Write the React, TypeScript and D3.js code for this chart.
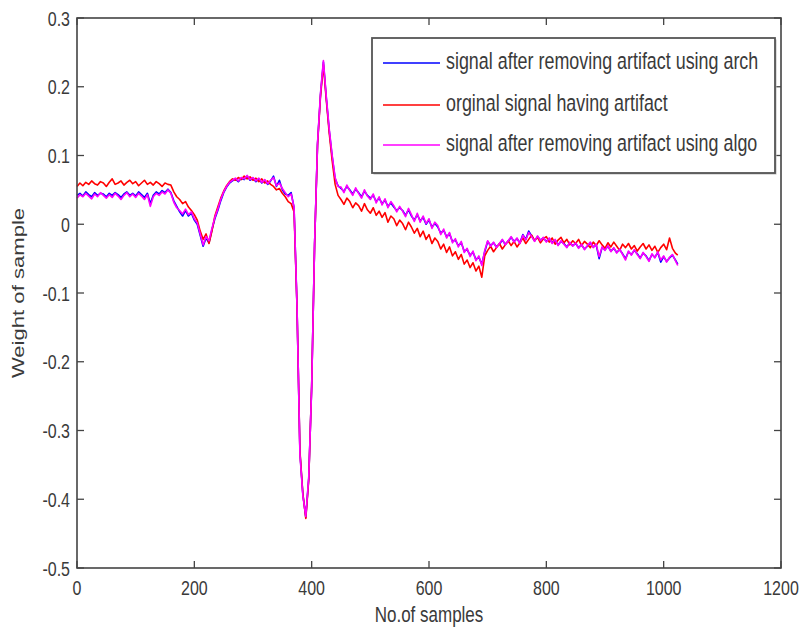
import React from "react";
import * as d3 from "d3";

// sample positions (every 5th sample, plus the last sample)
const sampleIndex: number[] = [...d3.range(0, 1021, 5), 1024];

// signal after removing artifact using arch (blue)
const archSignal: number[] = [
  0.042, 0.045, 0.041, 0.047, 0.043, 0.040, 0.046, 0.042, 0.045, 0.044,
  0.040, 0.045, 0.042, 0.046, 0.043, 0.039, 0.044, 0.047, 0.042, 0.045,
  0.041, 0.047, 0.043, 0.039, 0.045, 0.030, 0.042, 0.047, 0.044, 0.049,
  0.046, 0.051, 0.046, 0.034, 0.026, 0.018, 0.012, 0.020, 0.012, 0.016,
  0.006, 0.000, -0.016, -0.032, -0.020, -0.027, -0.008, 0.008, 0.020, 0.034,
  0.046, 0.054, 0.060, 0.063, 0.066, 0.062, 0.067, 0.065, 0.070, 0.064,
  0.067, 0.062, 0.066, 0.060, 0.064, 0.058, 0.063, 0.070, 0.055, 0.064,
  0.050, 0.044, 0.042, 0.046, 0.024, -0.119, -0.332, -0.393, -0.426, -0.370,
  -0.236, -0.029, 0.117, 0.188, 0.236, 0.183, 0.136, 0.098, 0.066, 0.056,
  0.052, 0.048, 0.055, 0.050, 0.044, 0.051, 0.046, 0.040, 0.048, 0.042,
  0.038, 0.042, 0.033, 0.038, 0.030, 0.035, 0.026, 0.031, 0.025, 0.020,
  0.024, 0.020, 0.013, 0.021, 0.012, 0.006, 0.014, 0.005, 0.010, 0.000,
  0.006, -0.004, 0.001, -0.004, -0.013, -0.009, -0.018, -0.014, -0.025, -0.023,
  -0.031, -0.027, -0.039, -0.037, -0.045, -0.041, -0.051, -0.048, -0.058, -0.040,
  -0.025, -0.031, -0.027, -0.033, -0.029, -0.023, -0.029, -0.025, -0.019, -0.025,
  -0.021, -0.027, -0.015, -0.022, -0.010, -0.017, -0.024, -0.018, -0.023, -0.020,
  -0.025, -0.021, -0.027, -0.023, -0.030, -0.025, -0.028, -0.033, -0.027, -0.031,
  -0.028, -0.034, -0.030, -0.036, -0.032, -0.027, -0.033, -0.030, -0.050, -0.034,
  -0.037, -0.032, -0.039, -0.035, -0.041, -0.037, -0.043, -0.050, -0.040, -0.044,
  -0.038, -0.043, -0.049, -0.042, -0.046, -0.053, -0.044, -0.048, -0.041, -0.055,
  -0.047, -0.054, -0.049, -0.045, -0.052, -0.058,
];

// orginal signal having artifact (red)
const originalSignal: number[] = [
  0.055, 0.060, 0.056, 0.061, 0.058, 0.063, 0.059, 0.057, 0.062, 0.060,
  0.055, 0.061, 0.066, 0.058, 0.060, 0.063, 0.057, 0.061, 0.064, 0.059,
  0.062, 0.056, 0.060, 0.064, 0.058, 0.061, 0.057, 0.062, 0.059, 0.055,
  0.060, 0.058, 0.057, 0.047, 0.040, 0.036, 0.030, 0.033, 0.025, 0.020,
  0.014, 0.006, -0.010, -0.022, -0.014, -0.028, -0.010, 0.012, 0.025, 0.038,
  0.048, 0.056, 0.062, 0.066, 0.064, 0.068, 0.065, 0.070, 0.066, 0.069,
  0.064, 0.067, 0.062, 0.066, 0.060, 0.063, 0.058, 0.055, 0.050, 0.052,
  0.045, 0.040, 0.033, 0.030, 0.018, -0.120, -0.330, -0.392, -0.428, -0.372,
  -0.235, -0.030, 0.115, 0.185, 0.232, 0.180, 0.132, 0.092, 0.058, 0.042,
  0.036, 0.029, 0.038, 0.033, 0.024, 0.031, 0.027, 0.019, 0.030, 0.021,
  0.016, 0.024, 0.013, 0.019, 0.010, 0.017, 0.003, 0.012, 0.008, -0.002,
  0.006, 0.001, -0.008, 0.003, -0.004, -0.013, -0.006, -0.018, -0.010, -0.022,
  -0.015, -0.028, -0.020, -0.025, -0.036, -0.029, -0.041, -0.033, -0.046, -0.040,
  -0.051, -0.044, -0.058, -0.052, -0.063, -0.056, -0.068, -0.061, -0.077, -0.046,
  -0.038, -0.032, -0.040, -0.034, -0.028, -0.036, -0.030, -0.024, -0.031, -0.025,
  -0.033, -0.027, -0.020, -0.028, -0.022, -0.016, -0.024, -0.019, -0.027, -0.021,
  -0.018, -0.026, -0.020, -0.029, -0.023, -0.019, -0.027, -0.022, -0.030, -0.024,
  -0.028, -0.022, -0.031, -0.025, -0.029, -0.034, -0.026, -0.031, -0.024, -0.030,
  -0.035, -0.027, -0.033, -0.026, -0.032, -0.038, -0.029, -0.034, -0.028, -0.036,
  -0.031, -0.039, -0.033, -0.028, -0.036, -0.030, -0.038, -0.032, -0.041, -0.034,
  -0.029, -0.037, -0.020, -0.035, -0.042, -0.045,
];

// signal after removing artifact using algo (magenta)
const algoSignal: number[] = [
  0.038, 0.043, 0.040, 0.045, 0.041, 0.037, 0.044, 0.040, 0.046, 0.042,
  0.038, 0.043, 0.039, 0.045, 0.041, 0.036, 0.042, 0.046, 0.040, 0.044,
  0.039, 0.045, 0.041, 0.036, 0.043, 0.026, 0.040, 0.045, 0.042, 0.047,
  0.044, 0.050, 0.045, 0.032, 0.024, 0.020, 0.015, 0.022, 0.014, 0.018,
  0.008, 0.002, -0.014, -0.030, -0.018, -0.024, -0.006, 0.010, 0.022, 0.036,
  0.047, 0.055, 0.061, 0.064, 0.067, 0.063, 0.068, 0.066, 0.071, 0.065,
  0.068, 0.063, 0.067, 0.061, 0.065, 0.059, 0.064, 0.068, 0.056, 0.060,
  0.052, 0.046, 0.040, 0.044, 0.025, -0.118, -0.335, -0.395, -0.425, -0.368,
  -0.238, -0.028, 0.118, 0.190, 0.238, 0.185, 0.138, 0.100, 0.068, 0.055,
  0.054, 0.046, 0.057, 0.049, 0.042, 0.053, 0.045, 0.038, 0.050, 0.041,
  0.036, 0.044, 0.031, 0.040, 0.028, 0.037, 0.024, 0.033, 0.027, 0.018,
  0.026, 0.019, 0.011, 0.023, 0.014, 0.004, 0.016, 0.003, 0.012, 0.001,
  0.008, -0.006, 0.003, -0.002, -0.015, -0.007, -0.020, -0.012, -0.027, -0.021,
  -0.033, -0.025, -0.041, -0.035, -0.047, -0.039, -0.053, -0.046, -0.060, -0.038,
  -0.024, -0.032, -0.026, -0.034, -0.028, -0.022, -0.030, -0.024, -0.018, -0.026,
  -0.020, -0.028, -0.016, -0.023, -0.012, -0.018, -0.025, -0.017, -0.024, -0.019,
  -0.026, -0.020, -0.028, -0.022, -0.031, -0.024, -0.029, -0.034, -0.026, -0.032,
  -0.027, -0.035, -0.029, -0.037, -0.031, -0.026, -0.034, -0.029, -0.047, -0.033,
  -0.038, -0.031, -0.040, -0.034, -0.042, -0.036, -0.044, -0.052, -0.039, -0.045,
  -0.037, -0.044, -0.050, -0.041, -0.047, -0.054, -0.043, -0.049, -0.040, -0.052,
  -0.046, -0.055, -0.048, -0.044, -0.053, -0.060,
];

const xTicks: number[] = [0, 200, 400, 600, 800, 1000, 1200];
const yTicks: number[] = [-0.5, -0.4, -0.3, -0.2, -0.1, 0, 0.1, 0.2, 0.3];
const legendLabels: string[] = [
  "signal after removing artifact using arch",
  "orginal signal having artifact",
  "signal after removing artifact using algo",
];
const seriesColors: string[] = ["#0000ff", "#ff0000", "#ff00ff"];
const xLabel = "No.of samples";
const yLabel = "Weight of sample";

const W = 802;
const H = 631;
const PL = 77, PR = 781, PT = 18, PB = 568;
const FONT = "'Liberation Sans', Arial, sans-serif";
const TEXT_COLOR = "#3a3a3a";
const AXIS_COLOR = "#444";
const SY = 1.3;

export default function App() {
  const x = d3.scaleLinear().domain([0, 1200]).range([PL, PR]);
  const y = d3.scaleLinear().domain([-0.5, 0.3]).range([PB, PT]);
  const lineGen = d3
    .line<number>()
    .x((_, i) => x(sampleIndex[i]))
    .y((d) => y(d));
  const series = [archSignal, originalSignal, algoSignal];
  const fmt = (v: number) => (Math.abs(v) < 1e-9 ? "0" : v.toFixed(1));
  const tickLen = 7;

  const legX = 372, legY = 38, legW = 403, legH = 135;
  const rowY = [63, 105, 145];

  return (
    <svg
      width={W}
      height={H}
      style={{ position: "absolute", left: 0, top: 0, background: "#fff" }}
      fontFamily={FONT}
    >
      <rect x={0} y={0} width={W} height={H} fill="#fff" />
      {/* series */}
      <g fill="none" strokeWidth={1.6} strokeLinejoin="round">
        {series.map((s, k) => (
          <path key={k} d={lineGen(s) || ""} stroke={seriesColors[k]} />
        ))}
      </g>
      {/* frame */}
      <rect x={PL} y={PT} width={PR - PL} height={PB - PT} fill="none" stroke={AXIS_COLOR} strokeWidth={1.6} />
      {/* x ticks */}
      {xTicks.map((t) => (
        <g key={"x" + t}>
          <line x1={x(t)} x2={x(t)} y1={PB} y2={PB - tickLen} stroke={AXIS_COLOR} strokeWidth={1.3} />
          <line x1={x(t)} x2={x(t)} y1={PT} y2={PT + tickLen} stroke={AXIS_COLOR} strokeWidth={1.3} />
          <text
            transform={`translate(${x(t)},${595}) scale(1,${SY})`}
            textAnchor="middle"
            fontSize={16}
            fill={TEXT_COLOR}
          >
            {String(t)}
          </text>
        </g>
      ))}
      {/* y ticks */}
      {yTicks.map((t) => (
        <g key={"y" + t}>
          <line x1={PL} x2={PL + tickLen} y1={y(t)} y2={y(t)} stroke={AXIS_COLOR} strokeWidth={1.3} />
          <line x1={PR} x2={PR - tickLen} y1={y(t)} y2={y(t)} stroke={AXIS_COLOR} strokeWidth={1.3} />
          <text
            transform={`translate(${70},${y(t) + 7.5}) scale(1,${SY})`}
            textAnchor="end"
            fontSize={16}
            fill={TEXT_COLOR}
          >
            {fmt(t)}
          </text>
        </g>
      ))}
      {/* axis labels */}
      <text
        transform={`translate(${(PL + PR) / 2},${622}) scale(1,${SY})`}
        textAnchor="middle"
        fontSize={17}
        fill={TEXT_COLOR}
      >
        {xLabel}
      </text>
      <text
        transform={`translate(${24},${(PT + PB) / 2}) scale(1,${SY}) rotate(-90)`}
        textAnchor="middle"
        fontSize={17}
        fill={TEXT_COLOR}
      >
        {yLabel}
      </text>
      {/* legend */}
      <rect x={legX + 1.5} y={legY + 1.5} width={legW} height={legH} fill="#bbb" />
      <rect x={legX} y={legY} width={legW} height={legH} fill="#fff" stroke="#555" strokeWidth={1.8} />
      {legendLabels.map((lab, k) => (
        <g key={lab}>
          <line x1={383} x2={440} y1={rowY[k]} y2={rowY[k]} stroke={seriesColors[k]} strokeWidth={1.6} />
          <text
            transform={`translate(${446},${rowY[k] + 6}) scale(1,${SY})`}
            fontSize={17.9}
            fill={TEXT_COLOR}
          >
            {lab}
          </text>
        </g>
      ))}
    </svg>
  );
}
